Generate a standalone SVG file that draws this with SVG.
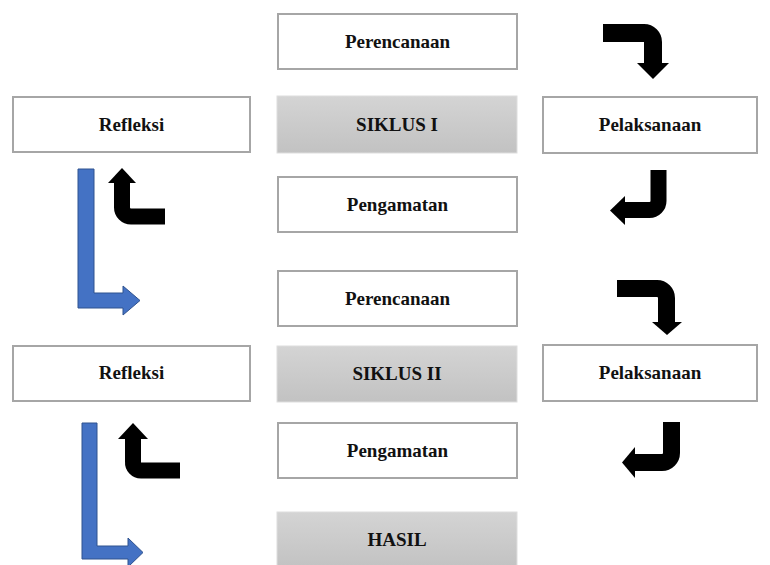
<svg xmlns="http://www.w3.org/2000/svg" width="770" height="565" viewBox="0 0 770 565">
<defs>
<linearGradient id="g" x1="0" y1="0" x2="0" y2="1">
<stop offset="0" stop-color="#d4d4d4"/>
<stop offset="1" stop-color="#c2c2c2"/>
</linearGradient>
</defs>
<style>
.b{fill:#fff;stroke:#a6a6a6;stroke-width:2}
.s{fill:url(#g);stroke:#dedede;stroke-width:1}
.t{font-family:"Liberation Serif","Times New Roman",serif;font-weight:bold;font-size:19px;text-anchor:middle;fill:#111}
.k{fill:none;stroke:#000;stroke-linejoin:miter}
.h{fill:#000}
.bl{fill:#4472c4;stroke:#2f528f;stroke-width:1}
</style>
<rect width="770" height="565" fill="#fff"/>
<g id="perencanaan1"><rect class="b" x="278" y="14" width="239" height="55"/><text class="t" x="397.5" y="48">Perencanaan</text></g>
<g id="siklus1"><rect class="s" x="277" y="96" width="240" height="57"/><text class="t" x="397" y="131">SIKLUS I</text></g>
<g id="refleksi1"><rect class="b" x="13" y="97" width="237" height="55"/><text class="t" x="131.5" y="131">Refleksi</text></g>
<g id="pelaksanaan1"><rect class="b" x="543" y="97" width="214" height="56"/><text class="t" x="650" y="131">Pelaksanaan</text></g>
<g id="pengamatan1"><rect class="b" x="278" y="177" width="239" height="55"/><text class="t" x="397.5" y="211">Pengamatan</text></g>
<g id="perencanaan2"><rect class="b" x="278" y="271" width="239" height="55"/><text class="t" x="397.5" y="305">Perencanaan</text></g>
<g id="siklus2"><rect class="s" x="277" y="346" width="240" height="56"/><text class="t" x="397" y="380">SIKLUS II</text></g>
<g id="refleksi2"><rect class="b" x="13" y="346" width="237" height="55"/><text class="t" x="131.5" y="379">Refleksi</text></g>
<g id="pelaksanaan2"><rect class="b" x="543" y="345" width="214" height="56"/><text class="t" x="650" y="379">Pelaksanaan</text></g>
<g id="pengamatan2"><rect class="b" x="278" y="423" width="239" height="55"/><text class="t" x="397.5" y="457">Pengamatan</text></g>
<g id="hasil"><rect class="s" x="277" y="512" width="240" height="56"/><text class="t" x="397" y="546">HASIL</text></g>
<g id="connectors">
<path class="k" stroke-width="18" d="M603,33 H644 A9,9 0 0 1 653,42 V64"/>
<polygon class="h" points="637,63 669,63 653,79"/>
<path class="k" stroke-width="16" d="M658.5,170 V201 A9,9 0 0 1 649.5,210 H624"/>
<polygon class="h" points="625,196 625,225 610,210.5"/>
<path class="k" stroke-width="16" d="M122,182 V207.5 A9,9 0 0 0 131,216.5 H165"/>
<polygon class="h" points="108,183 136,183 122,168"/>
<path class="k" stroke-width="16" d="M133,438 V462 A8,8 0 0 0 141,470.5 H180"/>
<polygon class="h" points="118,439 148,439 133,423"/>
<path class="k" stroke-width="17" d="M617,288.5 H657 A9.5,9.5 0 0 1 666.5,298 V323"/>
<polygon class="h" points="652,322 682,322 667,335"/>
<path class="k" stroke-width="17" d="M671.5,422 V453 A9.5,9.5 0 0 1 662,462.5 H634"/>
<polygon class="h" points="635,447 635,478 622,462.5"/>
<polygon class="bl" points="78,169 94,169 94,293 123,293 123,286 140,300.5 123,315 123,308 78,308"/>
<polygon class="bl" points="82,423 97,423 97,546 128,546 128,538 143,552.5 128,567 128,559 82,559"/>
</g>
</svg>
